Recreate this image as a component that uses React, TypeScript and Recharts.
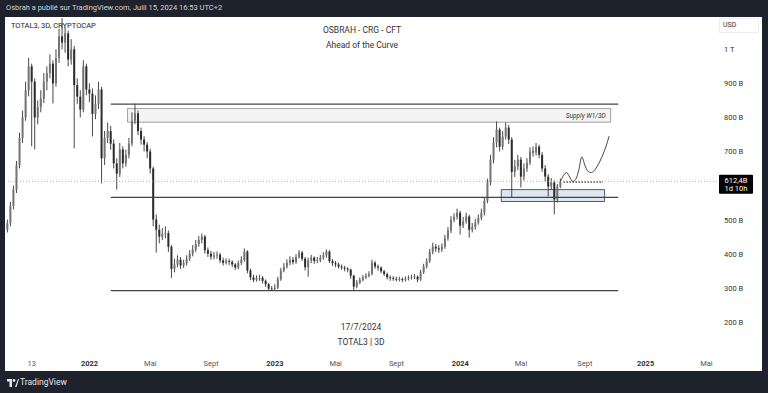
import { ComposedChart, Bar, Line, XAxis, YAxis, ReferenceLine, ReferenceArea } from 'recharts';

// 6-day candles from 19/7/2021 (slot 0) to 15/7/2024 (slot 182), values in billions USD
const FIRST_OPEN = 470;
const closes = [
  489, 540, 588, 660, 740, 800, 880, 950, 905, 800, 830, 855, 905, 930, 958, 900, 975, 1038, 1020, 1047,
  970, 1000, 895, 861, 823, 950, 882, 870, 810, 840, 882, 680, 740, 760, 723, 665, 635, 706, 665, 690,
  723, 790, 812, 760, 735, 720, 700, 650, 500, 470, 450, 458, 460, 420, 355, 368, 382, 365, 372, 385,
  400, 412, 428, 440, 450, 410, 400, 391, 395, 397, 380, 373, 378, 376, 368, 359, 372, 382, 406, 350,
  330, 323, 328, 329, 320, 310, 297, 296, 300, 325, 350, 362, 373, 382, 375, 390, 403, 385, 360, 380,
  388, 378, 380, 388, 395, 406, 378, 372, 368, 362, 359, 356, 353, 335, 303, 315, 323, 330, 335, 340,
  373, 362, 359, 348, 340, 330, 328, 326, 324, 325, 323, 326, 329, 331, 332, 324, 345, 362, 378, 405,
  420, 415, 412, 420, 445, 468, 500, 508, 520, 482, 495, 509, 470, 478, 491, 505, 520, 555, 609, 676,
  726, 764, 714, 744, 770, 735, 640, 656, 676, 626, 650, 667, 700, 697, 714, 690, 650, 626, 597, 609,
  559, 597, 612,
];
const highs = [
  500, 552, 600, 672, 755, 820, 905, 975, 958, 915, 850, 880, 930, 950, 985, 968, 1000, 1060, 1092, 1065,
  1055, 1030, 1010, 915, 880, 968, 958, 900, 885, 865, 905, 890, 760, 785, 775, 735, 680, 725, 715, 705,
  740, 815, 840, 820, 770, 745, 728, 708, 655, 515, 485, 475, 480, 468, 425, 385, 395, 390, 382, 395,
  410, 425, 440, 452, 459, 455, 418, 408, 405, 406, 402, 388, 386, 385, 380, 372, 380, 392, 415, 410,
  356, 338, 336, 338, 334, 324, 314, 305, 310, 332, 358, 372, 383, 392, 390, 398, 410, 408, 390, 388,
  396, 392, 390, 396, 404, 412, 410, 384, 378, 374, 368, 364, 360, 356, 338, 322, 330, 337, 342, 348,
  382, 378, 368, 362, 352, 344, 336, 334, 332, 332, 330, 333, 336, 338, 340, 336, 352, 370, 386, 414,
  432, 428, 425, 430, 455, 478, 510, 518, 532, 526, 508, 520, 514, 490, 502, 515, 532, 566, 620, 690,
  742, 788, 770, 760, 785, 778, 742, 675, 690, 684, 665, 680, 712, 715, 725, 720, 698, 660, 634, 622,
  615, 605, 620,
];
const lows = [
  462, 480, 530, 578, 650, 725, 790, 862, 715, 706, 780, 815, 842, 880, 915, 841, 890, 960, 1000, 990,
  950, 955, 709, 840, 800, 815, 865, 845, 744, 795, 825, 606, 660, 725, 705, 650, 588, 625, 650, 655,
  680, 715, 780, 748, 720, 700, 680, 635, 480, 403, 430, 440, 445, 405, 329, 345, 360, 355, 358, 365,
  378, 392, 405, 420, 430, 400, 390, 382, 383, 385, 372, 365, 368, 366, 360, 352, 354, 366, 376, 342,
  322, 316, 318, 320, 312, 302, 291, 290, 292, 296, 320, 345, 356, 366, 368, 370, 385, 378, 350, 332,
  372, 370, 372, 375, 382, 388, 372, 364, 360, 356, 352, 348, 345, 326, 291, 298, 310, 318, 325, 330,
  336, 355, 350, 342, 334, 324, 320, 320, 318, 318, 316, 318, 321, 324, 325, 316, 320, 340, 356, 372,
  398, 405, 402, 405, 414, 438, 460, 492, 500, 456, 475, 488, 447, 462, 470, 485, 498, 512, 548, 600,
  665, 712, 700, 705, 735, 722, 565, 625, 645, 594, 615, 640, 660, 685, 688, 680, 640, 612, 568, 588,
  515, 550, 592,
];

// hand-drawn projection, starting at the last candle
const PROJ_START = 182;
const projection = [612, 630, 638, 625, 612, 618, 645, 684, 660, 642, 638, 643, 655, 672, 692, 716, 745];

const TOTAL_SLOTS = 234;
const tickSlots = [8, 27, 47, 67, 88, 108, 128, 149, 169, 190, 210, 230];
const tickNames = ['13', '2022', 'Mai', 'Sept', '2023', 'Mai', 'Sept', '2024', 'Mai', 'Sept', '2025', 'Mai'];
const yTicks = [200, 300, 400, 500, 700, 800, 900, 1000];

const LAST_PRICE = 612.4;
const levels = [839, 565, 291];
const supplyZone = [786, 826];
const demandZone = [553, 588];

const FONT = 'Roboto, "Liberation Sans", sans-serif';
const UP = '#747474';
const DOWN = '#2c2c2c';
const WICK = '#333';

const rows = Array.from({ length: TOTAL_SLOTS }, (_, i) => {
  const row: any = { i };
  if (i < closes.length) {
    row.open = i === 0 ? FIRST_OPEN : closes[i - 1];
    row.close = closes[i];
    row.high = highs[i];
    row.low = lows[i];
  }
  const p = i - PROJ_START;
  if (p >= 0 && p < projection.length) row.proj = projection[p];
  return row;
});

const Candle = (props: any) => {
  const { x, y, width, height, payload } = props;
  if (!payload || payload.high == null) return null;
  const { open, close, high, low } = payload;
  const ratio = height / Math.max(high - low, 0.001);
  const top = y + (high - Math.max(open, close)) * ratio;
  const bodyH = Math.max(Math.abs(open - close) * ratio, 0.8);
  const cx = x + width / 2;
  return (
    <g>
      <line x1={cx} x2={cx} y1={y} y2={y + height} stroke={WICK} strokeWidth={0.9} />
      <rect x={x} y={top} width={width} height={bodyH} fill={close >= open ? UP : DOWN} />
    </g>
  );
};

const TimeTick = ({ x, y, payload }: any) => {
  const name = tickNames[tickSlots.indexOf(payload.value)];
  const year = /^\d{4}$/.test(name);
  return (
    <text x={x} y={y + 5} textAnchor="middle" fontSize={7.5} fontFamily={FONT}
      fontWeight={year ? 700 : 400} fill={year ? '#333' : '#555'}>
      {name}
    </text>
  );
};

const PriceTick = ({ x, y, payload }: any) => (
  <text x={x - 1} y={y + 3} textAnchor="start" fontSize={7.5} fontFamily={FONT} fill="#333">
    {payload.value === 1000 ? '1 T' : `${payload.value} B`}
  </text>
);

const PriceLabel = ({ viewBox }: any) => {
  const { x, y, width } = viewBox;
  const left = x + width + 2;
  return (
    <g>
      <rect x={left} y={y - 6.5} width={34} height={19} fill="#000" rx={1} />
      <text x={left + 17} y={y + 1.5} textAnchor="middle" fontSize={7.5} fontFamily={FONT} fill="#fff">612,4B</text>
      <text x={left + 17} y={y + 9.5} textAnchor="middle" fontSize={7.5} fontFamily={FONT} fill="#fff">1d 10h</text>
    </g>
  );
};

const abs = (left: number, top: number, extra: any = {}) => ({
  position: 'absolute' as const, left, top, whiteSpace: 'nowrap' as const, ...extra,
});

export default function App() {
  return (
    <div style={{ position: 'absolute', left: 0, top: 0, width: 768, height: 393, background: '#1e222d', overflow: 'hidden', fontFamily: FONT }}>
      <div style={abs(6, 3, { fontSize: 7.5, color: '#d1d4dc', lineHeight: '9px' })}>
        Osbrah a publié sur TradingView.com, Juill 15, 2024 16:53 UTC+2
      </div>
      <div style={abs(5, 17, { width: 757, height: 354, background: '#fff' })} />

      <div style={abs(11, 21, { fontSize: 7.5, color: '#222', lineHeight: '9px' })}>TOTAL3, 3D, CRYPTOCAP</div>
      <div style={abs(262, 23, { width: 200, textAlign: 'center', fontSize: 8.5, color: '#333', lineHeight: '15px' })}>
        <div>OSBRAH - CRG - CFT</div>
        <div>Ahead of the Curve</div>
      </div>
      <div style={abs(261, 320, { width: 200, textAlign: 'center', fontSize: 8.5, color: '#333', lineHeight: '14.5px' })}>
        <div>17/7/2024</div>
        <div>TOTAL3 | 3D</div>
      </div>

      <div style={abs(6, 17)}>
        <ComposedChart width={756} height={354} data={rows} margin={{ top: 0, right: 0, bottom: 0, left: 0 }} barCategoryGap="12%">
          <XAxis dataKey="i" type="category" ticks={tickSlots} interval={0} tick={<TimeTick />}
            tickLine={false} axisLine={false} height={18} />
          <YAxis orientation="right" width={45} domain={[108, 1095]} ticks={yTicks} allowDataOverflow
            tick={<PriceTick />} tickLine={false} axisLine={false} />
          <ReferenceArea x1={40} x2={198} y1={supplyZone[0]} y2={supplyZone[1]} fill="#f4f4f4" fillOpacity={1}
            stroke="#8a8a8a" strokeWidth={0.8}
            label={{ value: 'Supply W1/3D', position: 'insideRight', fontSize: 6.5, fontStyle: 'italic', fill: '#333', fontFamily: FONT }} />
          <ReferenceLine y={LAST_PRICE} stroke="#999" strokeDasharray="1 2" strokeWidth={0.8} label={<PriceLabel />} />
          {levels.map((v) => (
            <ReferenceLine key={v} segment={[{ x: 34, y: v }, { x: 201, y: v }]} stroke="#444" strokeWidth={1.2} />
          ))}
          <Bar dataKey={(d: any) => (d.high == null ? undefined : [d.low, d.high])} shape={<Candle />} isAnimationActive={false} />
          <ReferenceArea x1={163} x2={196} y1={demandZone[0]} y2={demandZone[1]} fill="#c4d3ec" fillOpacity={0.55}
            stroke="#333" strokeWidth={0.8} />
          <ReferenceLine segment={[{ x: 183, y: 610 }, { x: 196, y: 610 }]} stroke="#111" strokeDasharray="1.5 1.5" strokeWidth={1} />
          <Line dataKey="proj" type="monotone" stroke="#333" strokeWidth={0.9} dot={false} isAnimationActive={false} />
        </ComposedChart>
      </div>

      <div style={abs(719, 18, { width: 40, height: 15, border: '1px solid #eceef2', boxSizing: 'border-box', fontSize: 7, color: '#333', lineHeight: '13px', paddingLeft: 3 })}>USD</div>

      <svg style={abs(7, 379)} width={12} height={8}>
        <rect x={0} y={0} width={5} height={2.5} fill="#e6e6e6" />
        <rect x={2.5} y={0} width={2.5} height={8} fill="#e6e6e6" />
        <circle cx={7} cy={1.5} r={1.4} fill="#e6e6e6" />
        <polygon points="8,8 11,0 12,0 9.5,8" fill="#e6e6e6" />
      </svg>
      <div style={abs(20, 377, { fontSize: 8.5, color: '#e6e6e6', lineHeight: '11px' })}>TradingView</div>
    </div>
  );
}
